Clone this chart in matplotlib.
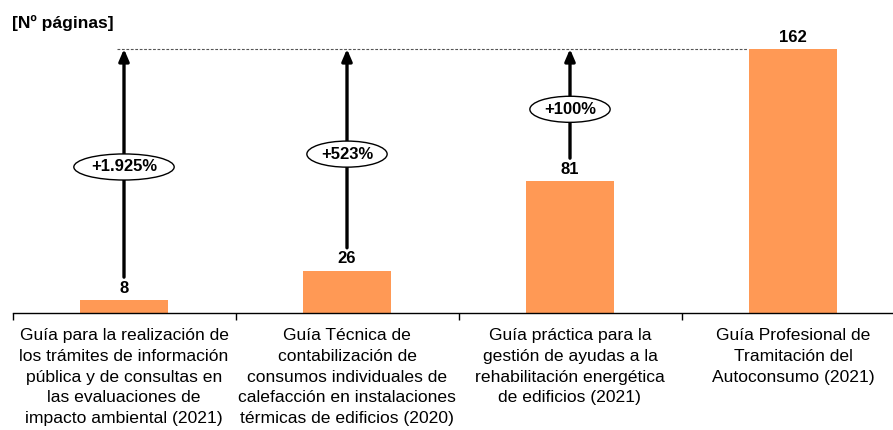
import matplotlib.pyplot as plt
from matplotlib.patches import Ellipse

# Pages per guide
guias = [
    "Guía para la realización de\nlos trámites de información\npública y de consultas en\nlas evaluaciones de\nimpacto ambiental (2021)",
    "Guía Técnica de\ncontabilización de\nconsumos individuales de\ncalefacción en instalaciones\ntérmicas de edificios (2020)",
    "Guía práctica para la\ngestión de ayudas a la\nrehabilitación energética\nde edificios (2021)",
    "Guía Profesional de\nTramitación del\nAutoconsumo (2021)",
]
paginas = [8, 26, 81, 162]
incrementos = ["+1.925%", "+523%", "+100%"]

naranja = "#FF9955"
plt.rcParams['font.family'] = ['Liberation Sans', 'DejaVu Sans']

fig = plt.figure(figsize=(8.93, 4.3), dpi=100)
ax = fig.add_axes([12.5 / 893, 117 / 430, 892 / 893, 264 / 430])

x = list(range(len(paginas)))
ax.bar(x, paginas, width=0.395, color=naranja)
ax.set_xlim(-0.5, len(paginas) - 0.5)
ax.set_ylim(0, max(paginas))

# value labels
for xi, v in zip(x, paginas):
    ax.annotate(str(v), (xi, v), xytext=(0, 3), textcoords="offset points",
                ha="center", va="bottom", fontsize=12, fontweight="bold")

# reference line at the top value
top = max(paginas)
ax.plot([-0.03, 2.8], [top, top], color="#555555", lw=0.8, ls=(0, (2.5, 1.5)), clip_on=False)

# arrows with increase labels
ell_y = [89.6, 97.5, 125]
ell_w = [0.45, 0.36, 0.36]
for xi, v, txt, ey, ew in zip(x, paginas, incrementos, ell_y, ell_w):
    ax.annotate("", xy=(xi, top), xytext=(xi, v + 14),
                arrowprops=dict(arrowstyle="-|>,head_length=0.7,head_width=0.3",
                                color="black", lw=2.4, shrinkA=0, shrinkB=0))
    ax.add_patch(Ellipse((xi, ey), ew, 16, facecolor="white", edgecolor="black", lw=1.0, zorder=3))
    ax.text(xi, ey, txt, ha="center", va="center", fontsize=12, fontweight="bold", zorder=4)

# axis: only the baseline with separators between categories
for s in ["top", "right", "left"]:
    ax.spines[s].set_visible(False)
ax.spines["bottom"].set_linewidth(1.0)
ax.set_yticks([])
ax.set_xticks([i - 0.5 for i in range(len(paginas) + 1)])
ax.set_xticklabels([])
ax.tick_params(axis="x", direction="out", length=5, width=1.0)

for xi, g in zip(x, guias):
    ax.text(xi, -9.5, g, ha="center", va="top", fontsize=12.6, linespacing=1.46,
            transform=ax.transData)

fig.text(12 / 893, 1 - 23 / 430, "[Nº páginas]", ha="left", va="center",
         fontsize=12.5, fontweight="bold")

fig.savefig("out.png", dpi=100)
